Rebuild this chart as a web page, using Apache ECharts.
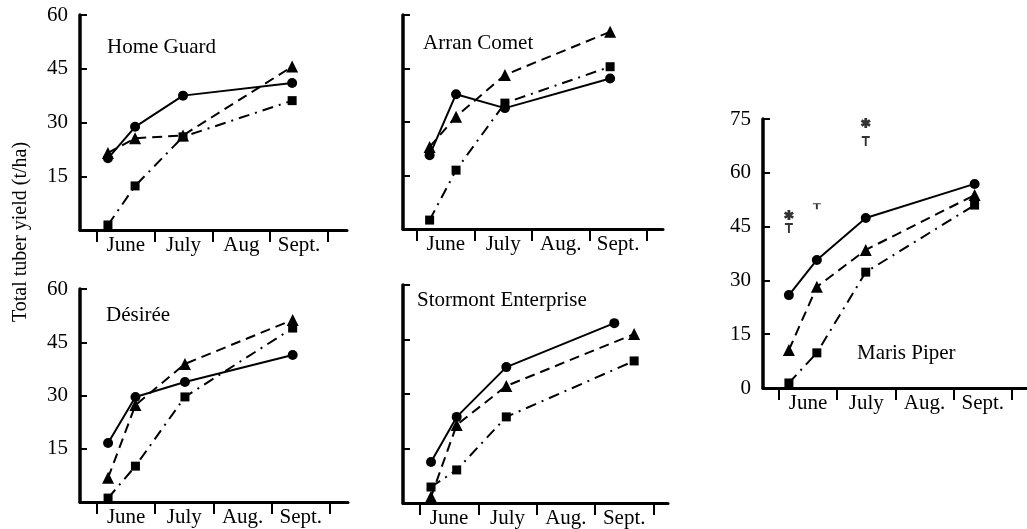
<!DOCTYPE html>
<html>
<head>
<meta charset="utf-8">
<script src="https://cdn.jsdelivr.net/npm/echarts@6.0.0/dist/echarts.min.js"></script>
<style>
  html, body { margin: 0; padding: 0; background: #fff; }
  #chart { width: 1027px; height: 529px; }
</style>
</head>
<body>
<div id="chart"></div>
<script>
// x values are months counted from 1 June (0 = 1 June, 1 = 1 July ...)
const monthTicks = [0, 1, 2, 3, 4];
const monthLabels = ["June", "July", "Aug.", "Sept."];
const monthLabelsHG = ["June", "July", "Aug", "Sept."];

// Home Guard
const hgDates = [0.19, 0.66, 1.49, 3.38];
const hgCircle = [20, 28.8, 37.5, 41];
const hgTriangle = [21.5, 25.6, 26.4, 45.6];
const hgSquare = [1.4, 12.3, 26, 36.1];

// Arran Comet
const acDates = [0.22, 0.68, 1.53, 3.36];
const acCircle = [20.7, 37.8, 33.9, 42.2];
const acTriangle = [23, 31.5, 43.2, 55.3];
const acSquare = [2.5, 16.5, 35.3, 45.5];

// Désirée
const deDates = [0.19, 0.66, 1.51, 3.36];
const deCircle = [16.6, 29.6, 33.8, 41.4];
const deTriangle = [6.8, 27.3, 38.9, 51.3];
const deSquare = [1.1, 10.1, 29.6, 49];

// Stormont Enterprise
const seDatesCircle = [0.19, 0.63, 1.48, 3.33];
const seDatesOther = [0.19, 0.63, 1.48, 3.67];
const seCircle = [11.3, 23.7, 37.4, 49.5];
const seTriangle = [1.7, 21.5, 32.2, 46.5];
const seSquare = [4.4, 9.1, 23.7, 39.1];

// Maris Piper
const mpDates = [0.17, 0.65, 1.49, 3.36];
const mpCircle = [25.9, 35.7, 47.4, 56.9];
const mpTriangle = [10.6, 28.2, 38.5, 53.8];
const mpSquare = [1.4, 9.8, 32.3, 51];

// significance marks over Maris Piper
const sigDates = [0.17, 1.49];
const sigValues = [48.2, 73.9];
const lsdDates = [0.17, 0.65, 1.49];
const lsdValues = [44.6, 50.7, 68.9];

const FONT = "'Liberation Serif', 'DejaVu Serif', serif";
const T_PATH = "path://M0,0 L10,0 L10,2.4 L6.2,2.4 L6.2,12 L3.8,12 L3.8,2.4 L0,2.4 Z";
const STAR_PATH = "path://M3.6,0 L6.4,0 L6.4,10 L3.6,10 Z " +
  "M1.37,1.29 L10.03,6.29 L8.63,8.71 L-0.03,3.71 Z " +
  "M8.63,1.29 L10.03,3.71 L1.37,8.71 L-0.03,6.29 Z";

const panels = [
  { left: 80, top: 15, width: 267, height: 215, min: -0.294, max: 4.33, yMax: 60, yLabels: "noZero", months: monthLabelsHG,
    dates: [hgDates, hgDates, hgDates], values: [hgCircle, hgTriangle, hgSquare] },
  { left: 403, top: 15, width: 260, height: 214, min: -0.243, max: 4.28, yMax: 60, yLabels: "none", months: monthLabels,
    dates: [acDates, acDates, acDates], values: [acCircle, acTriangle, acSquare] },
  { left: 80, top: 289, width: 268, height: 213, min: -0.292, max: 4.31, yMax: 60, yLabels: "noZero", months: monthLabels,
    dates: [deDates, deDates, deDates], values: [deCircle, deTriangle, deSquare] },
  { left: 403, top: 285, width: 265, height: 218, min: -0.29, max: 4.25, yMax: 60, yLabels: "none", months: monthLabels,
    dates: [seDatesCircle, seDatesOther, seDatesOther], values: [seCircle, seTriangle, seSquare] },
  { left: 763, top: 119, width: 264, height: 269, min: -0.275, max: 4.26, yMax: 75, yLabels: "all", months: monthLabels,
    dates: [mpDates, mpDates, mpDates], values: [mpCircle, mpTriangle, mpSquare] }
];

const styles = [
  { symbol: "circle", size: 10, type: "solid" },
  { symbol: "triangle", size: 12, type: [10, 6] },
  { symbol: "rect", size: 9, type: [11, 6, 2, 6] }
];

function pairs(xs, ys) {
  return xs.map((x, i) => [x, ys[i]]);
}

const grids = [];
const xAxes = [];
const yAxes = [];
const series = [];

panels.forEach((p, i) => {
  grids.push({ left: p.left, top: p.top, width: p.width, height: p.height, outerBoundsMode: "none" });
  xAxes.push({
    type: "value", gridIndex: i, min: p.min, max: p.max,
    splitLine: { show: false },
    axisLine: { show: true, onZero: false, lineStyle: { color: "#000", width: 3 } },
    axisTick: { show: true, customValues: monthTicks, length: 12, lineStyle: { color: "#000", width: 2 } },
    axisLabel: {
      customValues: [0.5, 1.5, 2.5, 3.5], margin: 5,
      color: "#000", fontFamily: FONT, fontSize: 21,
      formatter: (v) => p.months[Math.floor(v)]
    }
  });
  yAxes.push({
    type: "value", gridIndex: i, min: 0, max: p.yMax, interval: 15,
    splitLine: { show: false },
    axisLine: { show: true, onZero: false, lineStyle: { color: "#000", width: 3.5 } },
    axisTick: { show: true, inside: true, length: 7, lineStyle: { color: "#000", width: 2 } },
    axisLabel: {
      show: p.yLabels !== "none", showMinLabel: p.yLabels === "all", margin: 12,
      color: "#000", fontFamily: FONT, fontSize: 21
    }
  });
  styles.forEach((s, k) => {
    series.push({
      type: "line", xAxisIndex: i, yAxisIndex: i,
      data: pairs(p.dates[k], p.values[k]),
      symbol: s.symbol, symbolSize: s.size, showAllSymbol: true,
      itemStyle: { color: "#000" },
      lineStyle: { color: "#000", width: 2, type: s.type },
      animation: false, silent: true
    });
  });
});

series.push({
  type: "scatter", xAxisIndex: 4, yAxisIndex: 4,
  data: pairs(sigDates, sigValues),
  symbol: STAR_PATH, symbolSize: [10, 10],
  itemStyle: { color: "#000" }, animation: false, silent: true
});
series.push({
  type: "scatter", xAxisIndex: 4, yAxisIndex: 4,
  data: pairs(lsdDates, lsdValues).map((d, i) => ({ value: d, symbolSize: i === 1 ? [8, 6] : [8, 10] })),
  symbol: T_PATH,
  itemStyle: { color: "#000" }, animation: false, silent: true
});

const titleStyle = { fill: "#000", font: "21px " + FONT };
const names = [
  ["Home Guard", 107, 37],
  ["Arran Comet", 423, 33],
  ["Désirée", 106, 305],
  ["Stormont Enterprise", 417, 290],
  ["Maris Piper", 857, 343]
];
const graphics = names.map(([t, x, y]) => ({
  type: "text", left: x, top: y,
  style: Object.assign({ text: t }, titleStyle)
}));
graphics.push({
  type: "text", x: 21, y: 232, rotation: Math.PI / 2,
  style: { text: "Total tuber yield (t/ha)", fill: "#000", font: "20px " + FONT, align: "center", verticalAlign: "middle" }
});

const chart = echarts.init(document.getElementById("chart"));
chart.setOption({
  backgroundColor: "#fff",
  animation: false,
  grid: grids,
  xAxis: xAxes,
  yAxis: yAxes,
  series: series,
  graphic: graphics
});
</script>
</body>
</html>
